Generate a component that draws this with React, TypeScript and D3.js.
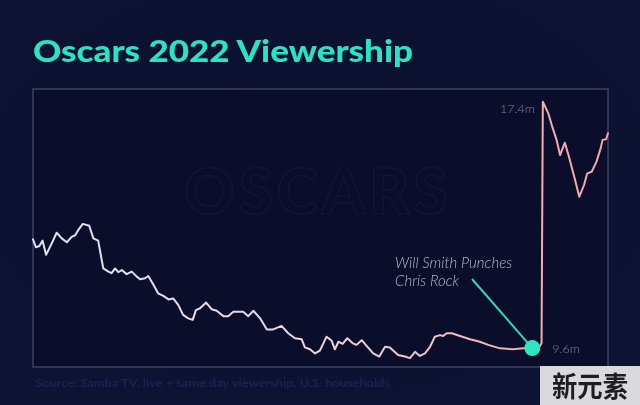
import React from 'react';
import * as d3 from 'd3';

// Broadcast minute and viewers (millions)
const minutes = [
  0, 0.9, 2.0, 3.0, 4.1, 5.9, 7.4, 9.0, 10.6, 12.1, 13.2, 14.2, 15.6, 17.6, 18.9, 20.4,
  22.0, 23.6, 24.6, 25.7, 26.7, 27.8, 29.3, 30.9, 32.5, 33.5, 35.1, 36.1, 37.7, 39.2,
  40.8, 42.4, 43.9, 45.5, 47.0, 48.6, 50.0, 51.0, 52.3, 54.2, 55.9, 57.5, 59.6, 61.1,
  62.7, 65.8, 67.4, 69.0, 71.1, 73.2, 75.2, 77.8, 79.9, 82.0, 84.1, 85.1, 86.7, 88.3,
  89.8, 91.9, 93.5, 94.5, 95.6, 96.9, 98.4, 100.1, 101.3, 102.9, 104.5, 106.5, 108.4,
  110.2, 111.7, 114.3, 116.4, 118.0, 119.6, 121.1, 122.7, 124.3, 125.8, 127.4, 128.4,
  129.5, 131.1, 133.7, 136.8, 139.9, 142.5, 146.2, 150.3, 153.5, 156.3, 158.2, 159.2,
  159.6, 161.3, 162.7, 163.9, 165.0, 166.5, 167.9, 169.7, 171.0, 172.5, 173.5, 174.9,
  176.4, 177.7, 178.3, 179.4, 180.0,
];
const viewers = [
  13.04, 12.79, 12.83, 13.0, 12.55, 12.92, 13.25, 13.07, 12.95, 13.12, 13.17, 13.34, 13.53,
  13.47, 13.07, 13.0, 12.12, 12.02, 11.97, 12.12, 12.0, 12.07, 11.94, 12.02, 11.86, 11.78,
  11.81, 11.88, 11.6, 11.33, 11.25, 11.14, 11.17, 10.96, 10.65, 10.54, 10.49, 10.8, 10.86,
  11.04, 10.83, 10.78, 10.61, 10.61, 10.75, 10.75, 10.61, 10.78, 10.54, 10.19, 10.19, 10.3,
  10.07, 9.91, 9.88, 9.62, 9.56, 9.43, 9.52, 9.96, 9.83, 9.56, 9.8, 9.73, 9.91, 9.75, 9.7,
  9.85, 9.66, 9.43, 9.33, 9.64, 9.62, 9.38, 9.33, 9.28, 9.48, 9.35, 9.43, 9.64, 9.96, 10.01,
  9.98, 10.07, 10.07, 9.98, 9.88, 9.8, 9.7, 9.59, 9.56, 9.59, 9.6, 9.59, 9.75, 17.4, 17.03,
  16.56, 16.19, 15.71, 16.1, 15.61, 14.92, 14.39, 14.76, 15.13, 15.18, 15.5, 15.92, 16.19,
  16.21, 16.4,
];

const titleText = 'Oscars 2022 Viewership';
const annotationLines = ['Will Smith Punches', 'Chris Rock'];
const punchMinute = 156.3;
const punchValue = 9.6;
const peakMinute = 159.6;
const peakValue = 17.4;
const peakLabel = '17.4m';
const lowLabel = '9.6m';
const sourceText = 'Source: Samba TV, live + same day viewership, U.S. households';
const watermark = '新元素';

const W = 640;
const H = 405;
const frame = { left: 33, right: 608, top: 89, bottom: 367 };

export default function App() {
  const x = d3.scaleLinear().domain([0, 180]).range([frame.left, frame.right]);
  const y = d3.scaleLinear().domain([9.0, 17.8]).range([frame.bottom, frame.top]);
  const data = minutes.map((m, i) => ({ m, v: viewers[i] }));
  const line = d3
    .line<{ m: number; v: number }>()
    .x((d) => x(d.m))
    .y((d) => y(d.v))
    .curve(d3.curveLinear);

  const dotX = x(punchMinute);
  const dotY = y(punchValue);
  const textX = 395;
  const textY = 268;
  const connStart = { x: 472, y: 279 };

  return (
    <svg
      width={W}
      height={H}
      viewBox={`0 0 ${W} ${H}`}
      style={{ position: 'fixed', left: 0, top: 0, display: 'block' }}
    >
      <defs>
        <radialGradient id="bg" cx="50%" cy="45%" r="75%">
          <stop offset="0%" stopColor="#0a0f2e" />
          <stop offset="100%" stopColor="#0d1434" />
        </radialGradient>
        <linearGradient
          id="lineGrad"
          gradientUnits="userSpaceOnUse"
          x1={frame.left}
          x2={frame.right}
          y1={0}
          y2={0}
        >
          <stop offset="0%" stopColor="#e4e2f2" />
          <stop offset="55%" stopColor="#ecd2dc" />
          <stop offset="85%" stopColor="#f2aeb2" />
          <stop offset="100%" stopColor="#f3a6a8" />
        </linearGradient>
      </defs>
      <rect x={0} y={0} width={W} height={H} fill="url(#bg)" />

      <text
        x={33}
        y={62}
        fill="#2fe0c2"
        fontFamily="Lato, 'Open Sans', sans-serif"
        fontWeight={900}
        fontSize={31}
        textLength={380}
        lengthAdjust="spacingAndGlyphs"
      >
        {titleText}
      </text>

      <rect
        x={frame.left}
        y={frame.top}
        width={frame.right - frame.left}
        height={frame.bottom - frame.top}
        fill="#0a0e2b"
        stroke="#3a4262"
        strokeWidth={1.5}
      />

      <text
        x={318}
        y={214}
        textAnchor="middle"
        fill="none"
        stroke="#161d48"
        strokeWidth={1.5}
        fontFamily="Lato, sans-serif"
        fontWeight={900}
        fontSize={62}
        letterSpacing={4}
        opacity={0.55}
      >
        OSCARS
      </text>

      <path
        d={line(data) || ''}
        fill="none"
        stroke="url(#lineGrad)"
        strokeWidth={2}
        strokeLinejoin="round"
        strokeLinecap="round"
      />

      <line
        x1={connStart.x}
        y1={connStart.y}
        x2={dotX}
        y2={dotY}
        stroke="#36d6b9"
        strokeWidth={2}
      />
      <circle cx={dotX} cy={dotY} r={8} fill="#2ee6c4" />

      {annotationLines.map((t, i) => (
        <text
          key={t}
          x={textX}
          y={textY + i * 18}
          fill="#b0bccd"
          fontFamily="Lato, 'Open Sans', sans-serif"
          fontStyle="italic"
          fontWeight={300}
          fontSize={15}
        >
          {t}
        </text>
      ))}

      <text
        x={x(peakMinute) - 8}
        y={y(peakValue) + 11.5}
        textAnchor="end"
        fill="#7e87a0"
        fontFamily="Lato, 'Open Sans', sans-serif"
        fontWeight={300}
        fontSize={12.5}
      >
        {peakLabel}
      </text>
      <text
        x={dotX + 20}
        y={dotY + 5}
        fill="#7e87a0"
        fontFamily="Lato, 'Open Sans', sans-serif"
        fontWeight={300}
        fontSize={12.5}
      >
        {lowLabel}
      </text>

      <text
        x={35}
        y={387}
        fill="#1a2253"
        fontFamily="Lato, 'Open Sans', sans-serif"
        fontWeight={700}
        fontSize={11}
        textLength={355}
        lengthAdjust="spacingAndGlyphs"
      >
        {sourceText}
      </text>

      <rect x={540} y={366} width={100} height={39} fill="#d9d9de" />
      <text
        x={590}
        y={397}
        textAnchor="middle"
        fill="#1e1e22"
        fontFamily="'Noto Sans CJK SC', sans-serif"
        fontWeight={700}
        fontSize={28}
        textLength={76}
        lengthAdjust="spacingAndGlyphs"
      >
        {watermark}
      </text>
    </svg>
  );
}
